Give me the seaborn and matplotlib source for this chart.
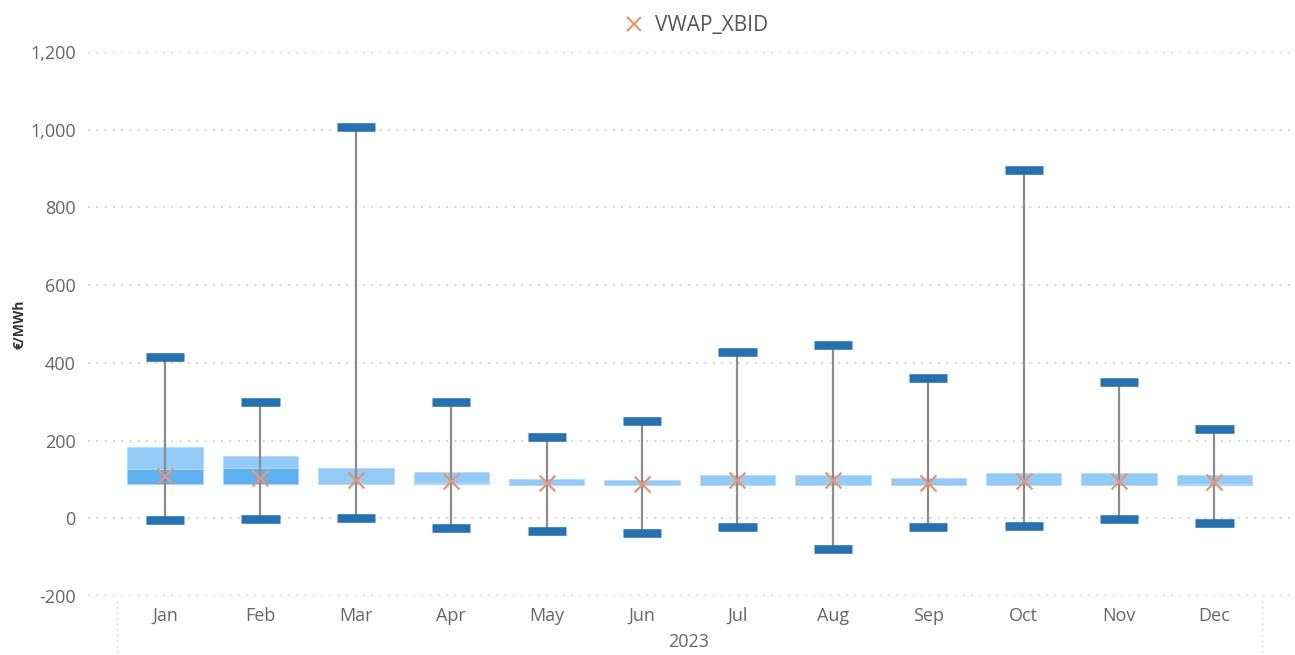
import numpy as np
import pandas as pd
import seaborn as sns
import matplotlib.pyplot as plt
from matplotlib.lines import Line2D
from matplotlib.ticker import FuncFormatter

months = ["Jan", "Feb", "Mar", "Apr", "May", "Jun", "Jul", "Aug", "Sep", "Oct", "Nov", "Dec"]
mins = [-5, -3, 2, -26, -33, -39, -23, -80, -23, -21, -3, -13]
maxs = [415, 299, 1007, 299, 209, 250, 428, 445, 360, 896, 350, 229]
q1 = [88, 88, 88, 88, 85, 85, 85, 85, 85, 85, 85, 85]
medians = [126, 129, 89, 90, 86, 86, 86, 86, 86, 86, 86, 88]
q3 = [183, 160, 129, 118, 100, 98, 111, 111, 103, 116, 116, 111]
means = [108, 103, 98, 95, 90, 88, 98, 98, 90, 95, 95, 93]

df = pd.DataFrame({"month": months, "min": mins, "max": maxs, "q1": q1,
                   "median": medians, "q3": q3, "VWAP_XBID": means})
df["pos"] = np.arange(len(df))

sns.set_theme(style="white")
plt.rcParams["font.family"] = ["Open Sans", "DejaVu Sans"]

fig = plt.figure(figsize=(12.95, 6.55), dpi=100)
ax = fig.add_axes([0.068, 0.090, 0.928, 0.8306])

light = "#93CBF8"
mid = "#5EB1EF"
dark = "#2572B2"

# boxes: q1-median darker, median-q3 lighter
ax.bar(df["pos"], df["median"] - df["q1"], bottom=df["q1"], width=0.79,
       color=mid, edgecolor="#a9d6f9", linewidth=0.6, zorder=2)
ax.bar(df["pos"], df["q3"] - df["median"], bottom=df["median"], width=0.79,
       color=light, edgecolor="#b5dcfa", linewidth=0.6, zorder=2)

# whiskers and caps
ax.vlines(df["pos"], df["min"], df["max"], color="#8c8c8c", linewidth=1.6, zorder=3)
ax.hlines(df["max"], df["pos"] - 0.2, df["pos"] + 0.2, color=dark, linewidth=6.2, zorder=4)
ax.hlines(df["min"], df["pos"] - 0.2, df["pos"] + 0.2, color=dark, linewidth=6.2, zorder=4)

# mean markers
sns.scatterplot(data=df, x="pos", y="VWAP_XBID", marker="x", s=130, color="#EE9270",
                linewidth=1.6, ax=ax, zorder=5, legend=False)

ax.set_xlim(-0.807, 11.79)
ax.set_ylim(-200, 1200)
ax.set_yticks(range(-200, 1201, 200))
ax.yaxis.set_major_formatter(FuncFormatter(lambda v, p: f"{int(v):,}"))
ax.set_xticks(df["pos"])
ax.set_xticklabels(months)
ax.tick_params(axis="both", length=0, labelsize=13, colors="#666666")
ax.tick_params(axis="x", pad=8)
ax.tick_params(axis="y", pad=9)
ax.grid(axis="y", color="#c8c8c8", linestyle=(0, (1, 4)), linewidth=1.2)
ax.grid(axis="x", visible=False)
for s in ax.spines.values():
    s.set_visible(False)

ax.set_xlabel("2023", fontsize=13, color="#666666", labelpad=6)
ax.set_ylabel("€/MWh", fontsize=10, color="#333333", fontweight="bold")
ax.yaxis.set_label_coords(-0.051, 0.5)

# category group boundaries below the axis
trans = ax.get_xaxis_transform()
for xb in (-0.5, 11.5):
    ax.add_line(Line2D([xb, xb], [-0.01, -0.11], transform=trans, color="#d0d0d0",
                       linestyle=(0, (1, 3)), linewidth=1, clip_on=False))

handle = Line2D([], [], marker="x", linestyle="none", color="#EE9270",
                markersize=10, markeredgewidth=1.5)
fig.legend([handle], ["VWAP_XBID"], loc="upper center", bbox_to_anchor=(0.533, 1.005),
           frameon=False, fontsize=15, handletextpad=0.0, labelcolor="#555555")

fig.savefig("out.png", dpi=100)
